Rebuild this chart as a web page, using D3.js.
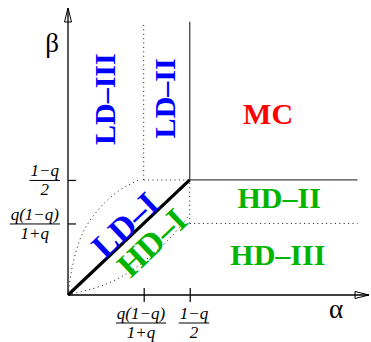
<!DOCTYPE html>
<html>
<head>
<meta charset="utf-8">
<script src="https://cdn.jsdelivr.net/npm/d3@7"></script>
<style>
  body { margin: 0; background: #fff; }
  svg { display: block; }
  .region { font-family: "Liberation Serif", "Times New Roman", serif; font-weight: bold; font-size: 30px; }
  .frac { font-family: "Liberation Serif", "Times New Roman", serif; font-style: italic; font-size: 17px; }
  .axlabel { font-family: "Liberation Serif", "Times New Roman", serif; font-size: 27px; }
</style>
</head>
<body>
<div id="container"></div>
<script>
// tick values (q ~ 0.45) and their labels
const tickAlpha = [0.171, 0.275];
const tickBeta = [0.171, 0.275];
const tickNum = ["q(1\u2212q)", "1\u2212q"];
const tickDen = ["1+q", "2"];

// phase boundaries, in (alpha, beta)
const solidLines = [
  [[0.275, 0.275], [0.275, 0.653]],
  [[0.275, 0.275], [0.654, 0.275]]
];
const dottedLines = [
  [[0.171, 0.275], [0.171, 0.653]],
  [[0.171, 0.275], [0.275, 0.275]],
  [[0.275, 0.171], [0.275, 0.275]],
  [[0.275, 0.171], [0.654, 0.171]]
];
const diagonal = [[0, 0], [0.275, 0.275]];
const lensUpper = [[0, 0], [0.0045, 0.036], [0.009, 0.067], [0.020, 0.115], [0.038, 0.163],
  [0.072, 0.211], [0.113, 0.251], [0.16, 0.275]];
const lensLower = [[0, 0], [0.027, 0.007], [0.072, 0.019], [0.124, 0.043], [0.178, 0.084],
  [0.223, 0.127], [0.257, 0.167], [0.273, 0.19]];

// phase names
const phases = ["LD\u2013III", "LD\u2013II", "MC", "HD\u2013II", "HD\u2013III", "LD\u2013I", "HD\u2013I"];
const phaseColor = ["#0000ff", "#0000ff", "#ff0000", "#00b400", "#00b400", "#0000ff", "#00b400"];
const phaseAt = [[0.106, 0.468], [0.242, 0.470], [0.452, 0.409], [0.477, 0.208], [0.474, 0.072], [0.1285, 0.168], [0.189, 0.126]];
const phaseRot = [-90, -90, 0, 0, 0, -43.5, -43.5];
const phaseSize = [30, 30, 30, 30, 30, 34, 34];

const W = 371, H = 342;
const svg = d3.select("#container").append("svg")
  .attr("width", W).attr("height", H);

const x = d3.scaleLinear().domain([0, 0.68]).range([68, 369]);
const y = d3.scaleLinear().domain([0, 0.686]).range([295, 8]);
const line = d3.line().x(d => x(d[0])).y(d => y(d[1]));

// axes with crossing ticks
const gx = svg.append("g").attr("transform", `translate(0,${y(0)})`)
  .call(d3.axisBottom(x).tickValues(tickAlpha).tickSize(7).tickFormat(""));
gx.selectAll(".tick line").attr("y1", -7).attr("stroke-width", 1.2);
gx.select(".domain").remove();

const gy = svg.append("g").attr("transform", `translate(${x(0)},0)`)
  .call(d3.axisLeft(y).tickValues(tickBeta).tickSize(5).tickFormat(""));
gy.selectAll(".tick line").attr("x2", 8).attr("stroke-width", 1.2);
gy.select(".domain").remove();

svg.append("line").attr("x1", x(0)).attr("y1", y(0)).attr("x2", x(0.68)).attr("y2", y(0))
  .attr("stroke", "#000").attr("stroke-width", 1.3);
svg.append("line").attr("x1", x(0)).attr("y1", y(0)).attr("x2", x(0)).attr("y2", y(0.686))
  .attr("stroke", "#000").attr("stroke-width", 1.3);

// open arrow heads
const ax = x(0.68), ay = y(0);
svg.append("path").attr("d", `M${ax},${ay} L${ax - 14},${ay - 3.5} L${ax - 14},${ay + 3.5} Z`)
  .attr("fill", "none").attr("stroke", "#000").attr("stroke-width", 1);
const bx = x(0), by = y(0.686);
svg.append("path").attr("d", `M${bx},${by} L${bx - 3.5},${by + 14} L${bx + 3.5},${by + 14} Z`)
  .attr("fill", "none").attr("stroke", "#000").attr("stroke-width", 1);

svg.append("text").attr("class", "axlabel").attr("x", 52).attr("y", 52)
  .attr("text-anchor", "middle").text("\u03b2");
svg.append("text").attr("class", "axlabel").attr("x", 336).attr("y", 318)
  .attr("text-anchor", "middle").text("\u03b1");

// fraction tick labels
function fraction(cx, barY, num, den, anchorRight) {
  const g = svg.append("g");
  const t1 = g.append("text").attr("class", "frac").attr("y", barY - 4).text(num);
  const t2 = g.append("text").attr("class", "frac").attr("y", barY + 15).text(den);
  const w = Math.max(t1.node().getComputedTextLength(), t2.node().getComputedTextLength()) + 2;
  const c = anchorRight ? cx - w / 2 : cx;
  t1.attr("x", c).attr("text-anchor", "middle");
  t2.attr("x", c).attr("text-anchor", "middle");
  g.append("line").attr("x1", c - w / 2).attr("x2", c + w / 2)
    .attr("y1", barY).attr("y2", barY).attr("stroke", "#000").attr("stroke-width", 1);
}
fraction(141, 323, tickNum[0], tickDen[0], false);
fraction(194, 323, tickNum[1], tickDen[1], false);
tickBeta.forEach((b, i) => fraction(60, y(b) + 0.5, tickNum[i], tickDen[i], true));

// boundaries
dottedLines.forEach(d => svg.append("path").attr("d", line(d))
  .attr("fill", "none").attr("stroke", "#111").attr("stroke-width", 1).attr("stroke-dasharray", "1 3.4"));
[lensUpper, lensLower].forEach(d => svg.append("path").attr("d", line.curve(d3.curveBasis)(d))
  .attr("fill", "none").attr("stroke", "#111").attr("stroke-width", 1).attr("stroke-dasharray", "1 3.4"));
line.curve(d3.curveLinear);
solidLines.forEach(d => svg.append("path").attr("d", line(d))
  .attr("fill", "none").attr("stroke", "#444").attr("stroke-width", 1.3));
svg.append("path").attr("d", line(diagonal))
  .attr("fill", "none").attr("stroke", "#000").attr("stroke-width", 3.2);

// phase labels
phases.forEach((p, i) => {
  const px = x(phaseAt[i][0]), py = y(phaseAt[i][1]);
  const t = svg.append("text").attr("class", "region").attr("fill", phaseColor[i])
    .attr("text-anchor", "middle").style("font-size", phaseSize[i] + "px")
    .attr("transform", `translate(${px},${py}) rotate(${phaseRot[i]})`)
    .text(p);
  if (phaseRot[i] !== -90 && phaseRot[i] !== 0) t.attr("dy", "0.35em");
});
</script>
</body>
</html>
